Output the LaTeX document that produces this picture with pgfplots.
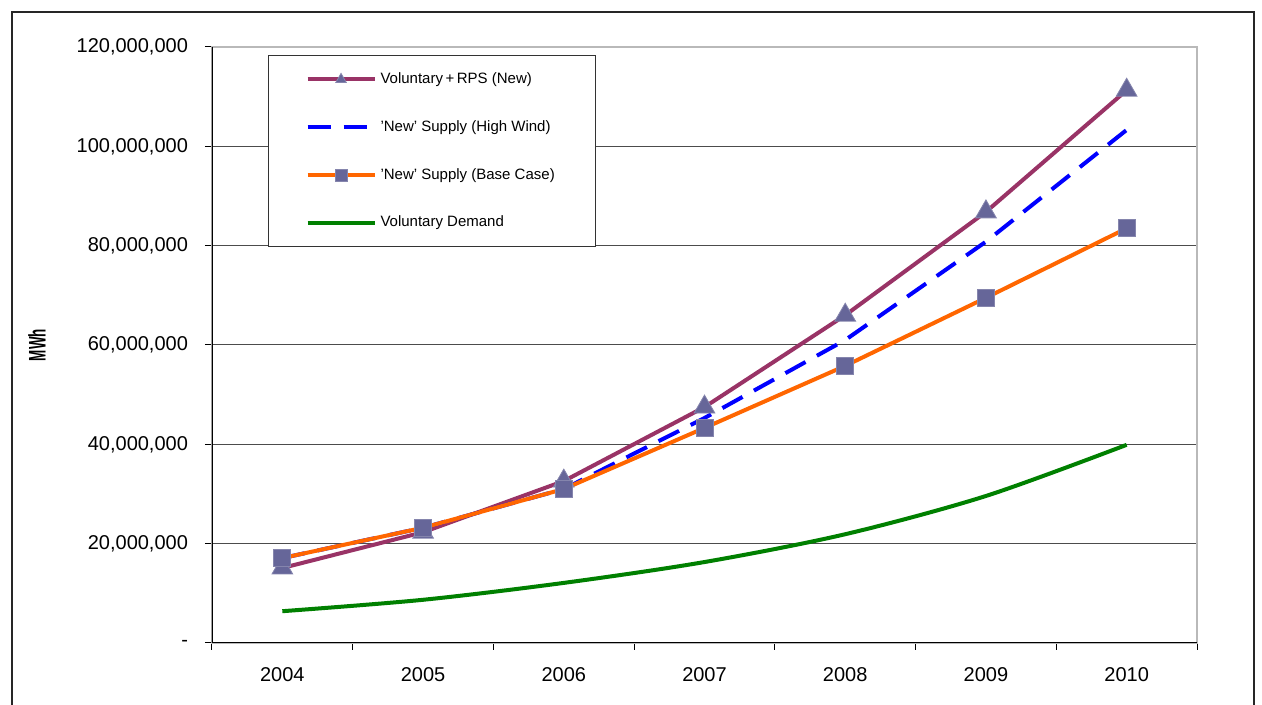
\documentclass[border=0pt]{standalone}
\usepackage{pgfplots}
\pgfplotsset{compat=1.18}
\usepackage{fontspec}
\setmainfont{Liberation Sans}
\definecolor{rpspurple}{HTML}{993366}
\definecolor{windblue}{HTML}{0000FF}
\definecolor{baseorange}{HTML}{FF6600}
\definecolor{demgreen}{HTML}{008000}
\definecolor{markslate}{HTML}{666699}

% MWh
\pgfplotstableread{
x     rps        wind       base      demand
0.5   15100000   17100000   17100000  6400000
1.5   22300000   23200000   23200000  8700000
2.5   32600000   31000000   31000000  12100000
3.5   47500000   45300000   43300000  16300000
4.5   66000000   61000000   55800000  21900000
5.5   86800000   80800000   69500000  29600000
6.5   111300000  103300000  83500000  39900000
}\mwh

\begin{document}
\begin{tikzpicture}
\useasboundingbox (-106pt,-31pt) rectangle (525pt,321.5pt);
\clip (-106pt,-31pt) rectangle (525pt,321.5pt);
\draw[line width=0.9pt, black!85] (-100pt,-60pt) rectangle (521pt,315.5pt);
\begin{axis}[
  at={(0,0)}, anchor=south west,
  scale only axis, width=492.5pt, height=298pt,
  xmin=0, xmax=7, ymin=0, ymax=120000000,
  scaled y ticks=false,
  xtick={0,1,2,3,4,5,6,7},
  x tick label as interval,
  xticklabels={2004,2005,2006,2007,2008,2009,2010},
  xticklabel style={font=\fontsize{10}{12}\selectfont, yshift=-5pt},
  ytick={0,20000000,40000000,60000000,80000000,100000000,120000000},
  yticklabels={-,{20,000,000},{40,000,000},{60,000,000},{80,000,000},{100,000,000},{120,000,000}},
  yticklabel style={font=\fontsize{10}{12}\selectfont, xshift=-5pt},
  xtick pos=bottom, ytick pos=left,
  tick align=outside, major tick length=3.5pt,
  tick style={black, line width=0.5pt},
  axis line style={draw=gray!55, line width=0.6pt},
  ymajorgrids, grid style={gray!60!black, line width=0.5pt},
  legend style={at={(0.0569,0.9866)}, anchor=north west,
    draw=black!80, line width=0.5pt,
    font=\fontsize{7.5}{9}\selectfont,
    inner xsep=18.5pt, inner ysep=6.5pt, row sep=13pt},
  legend cell align=left,
  legend image code/.code={\draw[mark repeat=2,mark phase=2,#1] plot coordinates {(0pt,0pt) (16.75pt,0pt) (33.5pt,0pt)};},
  legend image post style={mark size=3pt},
]
\addplot[rpspurple, line width=2pt, mark=triangle*, mark size=6pt,
  mark options={fill=markslate, draw=markslate!80, line width=0.4pt, solid}]
  table[x=x, y=rps]{\mwh};
\addlegendentry{Voluntary\,+\,RPS (New)}
\addplot[windblue, line width=2pt, dash pattern=on 11.5pt off 6.5pt]
  table[x=x, y=wind]{\mwh};
\addlegendentry{'New' Supply (High Wind)}
\addplot[baseorange, line width=2pt, mark=square*, mark size=4.25pt,
  mark options={fill=markslate, draw=markslate!80, line width=0.4pt, solid}]
  table[x=x, y=base]{\mwh};
\addlegendentry{'New' Supply (Base Case)}
\addplot[demgreen, line width=2pt, smooth]
  table[x=x, y=demand]{\mwh};
\addlegendentry{Voluntary Demand}
\draw[black, line width=0.6pt] (rel axis cs:0,0) -- (rel axis cs:0,1);
\draw[black, line width=0.6pt] (rel axis cs:0,0) -- (rel axis cs:1,0);
\end{axis}
\node[rotate=90, font=\fontsize{12}{14}\selectfont\bfseries] at (-87.5pt,149pt) {\scalebox{0.56}[1]{MWh}};
\end{tikzpicture}
\end{document}
